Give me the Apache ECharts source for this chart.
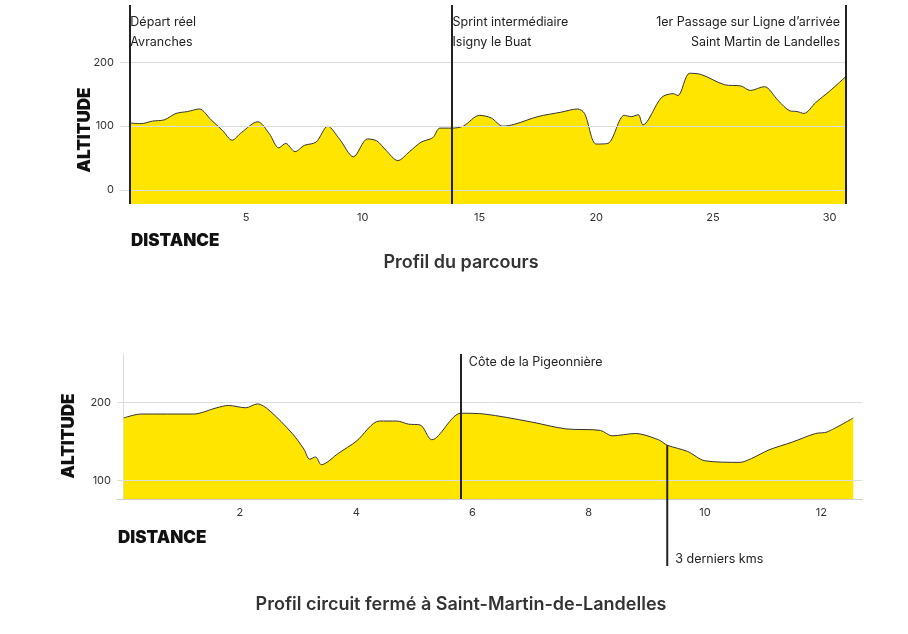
<!DOCTYPE html><html><head><meta charset="utf-8">
<script src="https://cdn.jsdelivr.net/npm/echarts@6/dist/echarts.min.js"></script>
<style>html,body{margin:0;background:#fff}#c{width:908px;height:634px}</style></head><body><div id="c"></div>
<script>
const topKm=[0,0.5,1,1.5,2,2.5,3,3.5,4,4.4,4.8,5.5,6,6.4,6.7,7.1,7.5,8,8.5,9,9.6,10.2,10.6,11,11.5,12,12.5,13,13.3,13.8,14.3,15,15.5,16,16.5,17.5,18.5,19.2,19.5,20,20.5,21.2,21.5,21.8,22,22.8,23.3,23.5,24,24.5,25.5,26.2,26.6,27.2,27.8,28.3,28.6,28.9,29.4,30,30.7];
const topAlt=[105,104,108,110,120,123,127,110,93,78,90,107,88,66,73,60,70,75,100,80,52,80,77,62,46,60,75,82,97,97,100,117,113,100,103,115,122,127,120,72,73,117,115,118,102,145,151,148,183,181,165,163,156,162,140,124,123,120,137,155,178];
const topMarks=[[0,'Départ réel','Avranches'],[13.8,'Sprint intermédiaire','Isigny le Buat'],[30.7,'1er Passage sur Ligne d’arrivée','Saint Martin de Landelles']];
const botKm=[0,0.3,1.2,1.6,1.8,2.1,2.3,2.5,2.9,3.1,3.2,3.3,3.4,3.7,4.0,4.4,4.7,4.9,5.1,5.3,5.8,6.2,7,7.6,8.2,8.4,8.8,9.2,9.35,9.7,10,10.6,10.8,11.1,11.5,11.9,12.1,12.55];
const botAlt=[180,185,185,193,196,193,198,190,160,140,127,130,120,135,150,176,176,172,171,152,186,185,175,166,164,157,160,152,145,137,125,123,128,139,149,160,162,180];
const xTicksTop=[5,10,15,20,25,30], yTicksTop=[0,100,200];
const xTicksBot=[2,4,6,8,10,12], yTicksBot=[100,200];
const F='Inter';
const c=echarts.init(document.getElementById('c'));
function ax(ticks,min,max,gi){return {type:'value',gridIndex:gi,min,max,
 axisLabel:{fontFamily:F,fontSize:11,color:'#333',customValues:ticks},axisTick:{show:false},
 axisLine:{lineStyle:{color:'#ccc'}},splitLine:{show:false}};}
function ay(ticks,min,max,gi){return {type:'value',gridIndex:gi,min,max,
 axisLabel:{fontFamily:F,fontSize:11,color:'#333',customValues:ticks,margin:6},axisTick:{show:false},
 axisLine:{show:true,lineStyle:{color:'#ddd'}},splitLine:{show:false}};}
function grid(ticks){return ticks.map(v=>({yAxis:v}));}
const opt={animation:false,
 grid:[{left:120,width:726,top:5,height:199},{left:117,width:745,top:354,height:145}],
 xAxis:[ax(xTicksTop,-0.4,30.7,0),ax(xTicksBot,-0.115,12.7,1)],
 yAxis:[ay(yTicksTop,-22,290,0),ay(yTicksBot,76,262,1)],
 series:[
  {type:'line',xAxisIndex:0,yAxisIndex:0,data:[],markLine:{symbol:'none',silent:true,label:{show:false},
   lineStyle:{color:'#ddd',width:1,type:'solid'},data:grid(yTicksTop)}},
  {type:'line',xAxisIndex:1,yAxisIndex:1,data:[],markLine:{symbol:'none',silent:true,label:{show:false},
   lineStyle:{color:'#ddd',width:1,type:'solid'},data:grid(yTicksBot)}},
  {type:'line',xAxisIndex:0,yAxisIndex:0,data:topKm.map((k,i)=>[k,topAlt[i]]),smooth:0.3,symbol:'none',
   lineStyle:{color:'#333',width:1},areaStyle:{color:'#FFE500',opacity:1,origin:'start'},z:3,
   markLine:{symbol:'none',silent:true,label:{show:false},lineStyle:{color:'#222',width:2,type:'solid'},
    data:topMarks.map(m=>[{coord:[m[0],-22]},{coord:[m[0],290]}])}},
  {type:'line',xAxisIndex:1,yAxisIndex:1,data:botKm.map((k,i)=>[k,botAlt[i]]),smooth:0.3,symbol:'none',
   lineStyle:{color:'#333',width:1},areaStyle:{color:'#FFE500',opacity:1,origin:'start'},z:3,
   markLine:{symbol:'none',silent:true,label:{show:false},lineStyle:{color:'#222',width:2,type:'solid'},
    data:[[{coord:[5.8,76]},{coord:[5.8,262]}]]}}
 ]};
c.setOption(opt);
const g=[];
topMarks.forEach((m,i)=>{const p=c.convertToPixel({xAxisIndex:0,yAxisIndex:0},[m[0],0]);
 const last=i===topMarks.length-1;
 g.push({type:'text',x:last?p[0]-6:p[0]+1,y:12,style:{text:m[1]+'\n'+m[2],font:'12.5px '+F,fill:'#222',lineHeight:20,align:last?'right':'left'}});});
const pc=c.convertToPixel({xAxisIndex:1,yAxisIndex:1},[5.8,0]);
g.push({type:'text',x:pc[0]+8,y:356,style:{text:'Côte de la Pigeonnière',font:'12.5px '+F,fill:'#222'}});
const pd=c.convertToPixel({xAxisIndex:1,yAxisIndex:1},[9.35,145]);
g.push({type:'line',shape:{x1:pd[0],y1:pd[1],x2:pd[0],y2:566},style:{stroke:'#222',lineWidth:2},z:10});
g.push({type:'text',x:pd[0]+8,y:553,style:{text:'3 derniers kms',font:'12.5px '+F,fill:'#222'}});
g.push({type:'text',x:131,y:232,style:{text:'DISTANCE',font:'900 17px '+F,fill:'#111'}});
g.push({type:'text',x:118,y:529,style:{text:'DISTANCE',font:'900 17px '+F,fill:'#111'}});
g.push({type:'text',x:85,y:130,rotation:Math.PI/2,style:{text:'ALTITUDE',font:'900 17px '+F,fill:'#111',align:'center',verticalAlign:'middle'}});
g.push({type:'text',x:69,y:436,rotation:Math.PI/2,style:{text:'ALTITUDE',font:'900 17px '+F,fill:'#111',align:'center',verticalAlign:'middle'}});
g.push({type:'text',x:461,y:263,style:{text:'Profil du parcours',font:'600 18px '+F,fill:'#333',align:'center',verticalAlign:'middle'}});
g.push({type:'text',x:461,y:605,style:{text:'Profil circuit fermé à Saint-Martin-de-Landelles',font:'600 18px '+F,fill:'#333',align:'center',verticalAlign:'middle'}});
c.setOption({graphic:g});
</script></body></html>
